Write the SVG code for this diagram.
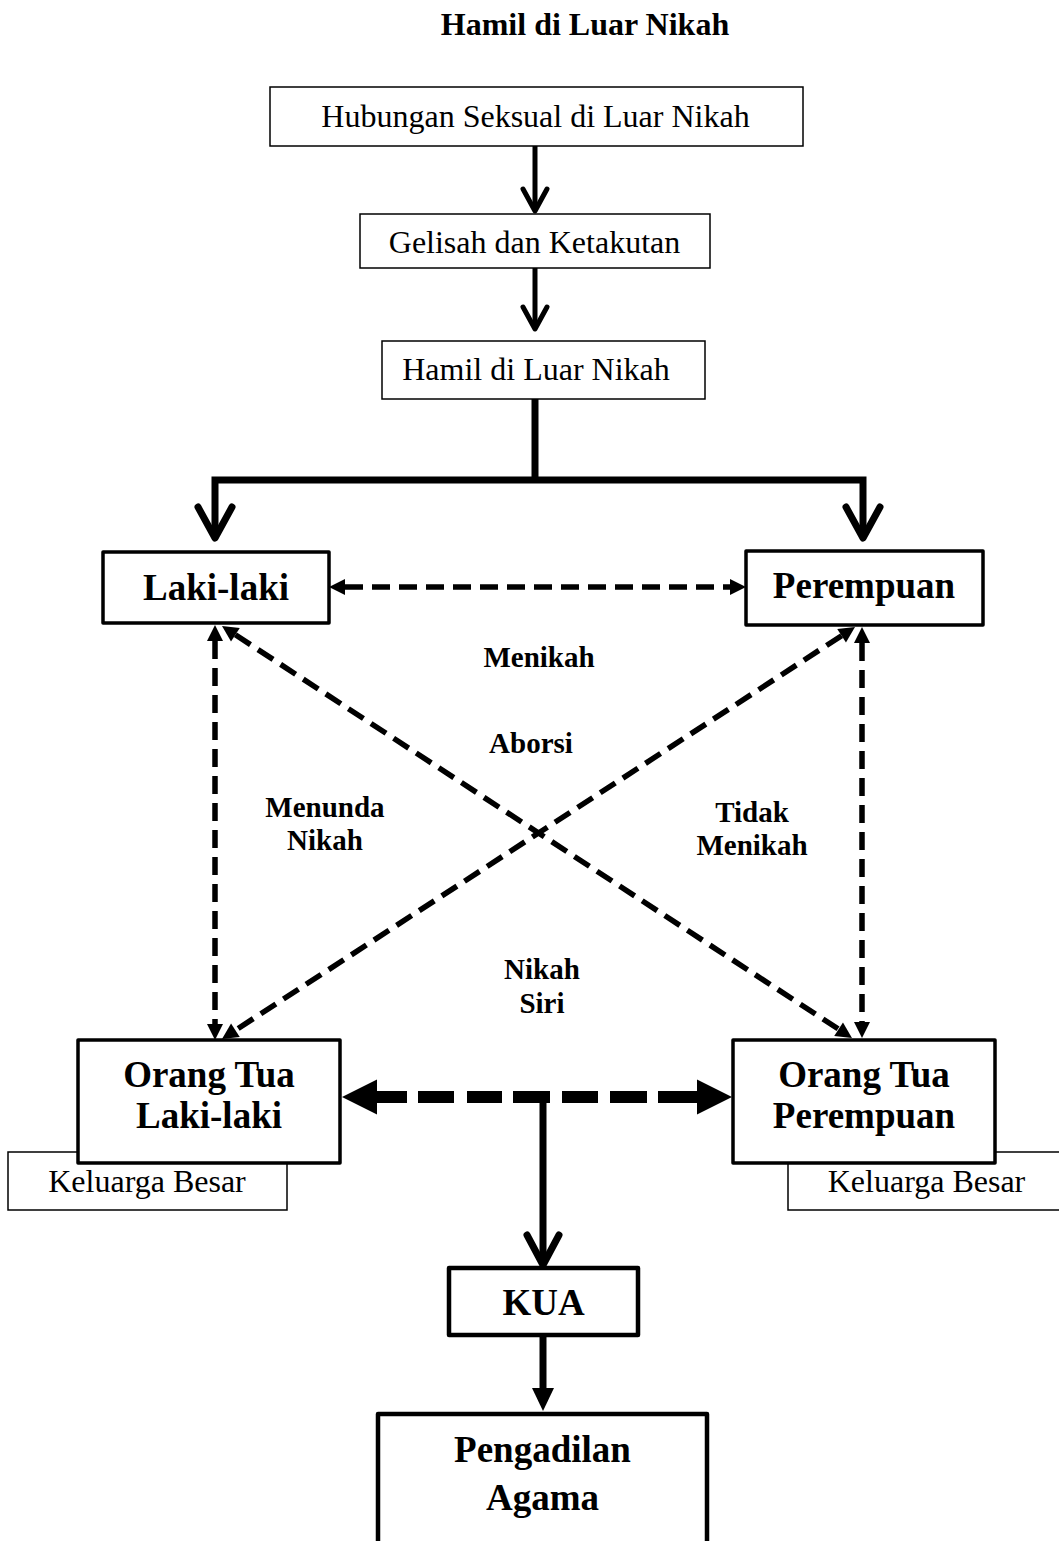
<svg xmlns="http://www.w3.org/2000/svg" width="1059" height="1541" viewBox="0 0 1059 1541">
<style>
  text { font-family: "Liberation Serif", "Times New Roman", serif; fill: #000; text-anchor: middle; }
  .reg { font-size: 32px; }
  .big { font-size: 37px; font-weight: bold; }
  .lbl { font-size: 29px; font-weight: bold; }
  .title { font-size: 32px; font-weight: bold; }
  .thin { fill: #fff; stroke: #000; stroke-width: 1.5; }
  .thick { fill: #fff; stroke: #000; stroke-width: 3.5; stroke-linejoin: round; }
  .heavy { fill: #fff; stroke: #000; stroke-width: 4.5; stroke-linejoin: round; }
  .solid { fill: none; stroke: #000; stroke-width: 7; }
  .solid5 { fill: none; stroke: #000; stroke-width: 5; }
  .chev { fill: none; stroke: #000; stroke-width: 7; stroke-linecap: round; stroke-linejoin: round; }
  .chev5 { fill: none; stroke: #000; stroke-width: 5; stroke-linecap: round; stroke-linejoin: round; }
  .dash { fill: none; stroke: #000; stroke-width: 5.5; stroke-dasharray: 18 9; }
  .dashbig { fill: none; stroke: #000; stroke-width: 12; stroke-dasharray: 30 11 36 13 35 11 37 12 36 12 37 11 39; }
</style>
<defs>
  <marker id="tri" viewBox="0 0 16 16" refX="0" refY="8" markerWidth="16" markerHeight="16" markerUnits="userSpaceOnUse" orient="auto-start-reverse" overflow="visible">
    <path d="M0,0 L16,8 L0,16 Z" fill="#000"/>
  </marker>
  <marker id="tribig" viewBox="0 0 35 35" refX="0" refY="17.5" markerWidth="35" markerHeight="35" markerUnits="userSpaceOnUse" orient="auto-start-reverse" overflow="visible">
    <path d="M0,0 L35,17.5 L0,35 Z" fill="#000"/>
  </marker>
</defs>

<text class="title" x="585" y="35">Hamil di Luar Nikah</text>

<g id="connectors">
  <path class="solid5" d="M535,146 V209"/>
  <path class="chev5" d="M523,189 L535,211 L547,189"/>
  <path class="solid5" d="M535,268 V328"/>
  <path class="chev5" d="M523,307 L535,329 L547,307"/>
  <path class="solid" d="M535,399 V480"/>
  <path class="solid" d="M215,536 V480 H863 V536"/>
  <path class="chev" d="M198,507 L215,538 L232,507"/>
  <path class="chev" d="M846,507 L863,538 L880,507"/>
  <path class="dash" d="M345,587 H730" marker-start="url(#tri)" marker-end="url(#tri)"/>
  <path class="dash" d="M215,641 V1024" marker-start="url(#tri)" marker-end="url(#tri)"/>
  <path class="dash" d="M862,643 V1022" marker-start="url(#tri)" marker-end="url(#tri)"/>
  <path class="dash" d="M235.4,634.8 L838.6,1029.2" marker-start="url(#tri)" marker-end="url(#tri)"/>
  <path class="dash" d="M841.6,635.7 L235.4,1030.3" marker-start="url(#tri)" marker-end="url(#tri)"/>
  <path class="dashbig" d="M377,1097 H697" marker-start="url(#tribig)" marker-end="url(#tribig)"/>
  <path class="solid" d="M543,1092 V1263"/>
  <path class="chev" d="M527,1235 L543,1265 L559,1235"/>
  <path class="solid" d="M543,1336 V1392"/>
  <path d="M532,1388 L554,1388 L543,1411 Z" fill="#000"/>
</g>

<g id="labels">
  <text class="lbl" x="539" y="667">Menikah</text>
  <text class="lbl" x="531" y="753">Aborsi</text>
  <text class="lbl" x="325" y="817">Menunda</text>
  <text class="lbl" x="325" y="850">Nikah</text>
  <text class="lbl" x="752" y="822">Tidak</text>
  <text class="lbl" x="752" y="855">Menikah</text>
  <text class="lbl" x="542" y="979">Nikah</text>
  <text class="lbl" x="542" y="1013">Siri</text>
</g>

<g id="n-hubungan">
  <rect class="thin" x="270" y="87" width="533" height="59"/>
  <text class="reg" x="535.5" y="127">Hubungan Seksual di Luar Nikah</text>
</g>
<g id="n-gelisah">
  <rect class="thin" x="360" y="214" width="350" height="54"/>
  <text class="reg" x="534.5" y="253">Gelisah dan Ketakutan</text>
</g>
<g id="n-hamil">
  <rect class="thin" x="382" y="341" width="323" height="58"/>
  <text class="reg" x="536" y="380">Hamil di Luar Nikah</text>
</g>
<g id="n-laki">
  <rect class="thick" x="103" y="552" width="226" height="71"/>
  <text class="big" x="216" y="600">Laki-laki</text>
</g>
<g id="n-perempuan">
  <rect class="thick" x="746" y="551" width="237" height="74"/>
  <text class="big" x="864" y="598">Perempuan</text>
</g>
<g id="n-keluarga-l">
  <rect class="thin" x="8" y="1152" width="279" height="58"/>
  <text class="reg" x="147" y="1192">Keluarga Besar</text>
</g>
<g id="n-keluarga-r">
  <rect class="thin" x="788" y="1152" width="290" height="58"/>
  <text class="reg" x="926.5" y="1192">Keluarga Besar</text>
</g>
<g id="n-ortu-laki">
  <rect class="thick" x="78" y="1040" width="262" height="123"/>
  <text class="big" x="209" y="1087">Orang Tua</text>
  <text class="big" x="209" y="1128">Laki-laki</text>
</g>
<g id="n-ortu-perempuan">
  <rect class="thick" x="733" y="1040" width="262" height="123"/>
  <text class="big" x="864" y="1087">Orang Tua</text>
  <text class="big" x="864" y="1128">Perempuan</text>
</g>
<g id="n-kua">
  <rect class="heavy" x="449" y="1268" width="189" height="67"/>
  <text class="big" x="543.5" y="1315">KUA</text>
</g>
<g id="n-pengadilan">
  <path class="heavy" d="M378,1545 V1414 H707 V1545"/>
  <text class="big" x="542.5" y="1462">Pengadilan</text>
  <text class="big" x="542.5" y="1510">Agama</text>
</g>
</svg>
